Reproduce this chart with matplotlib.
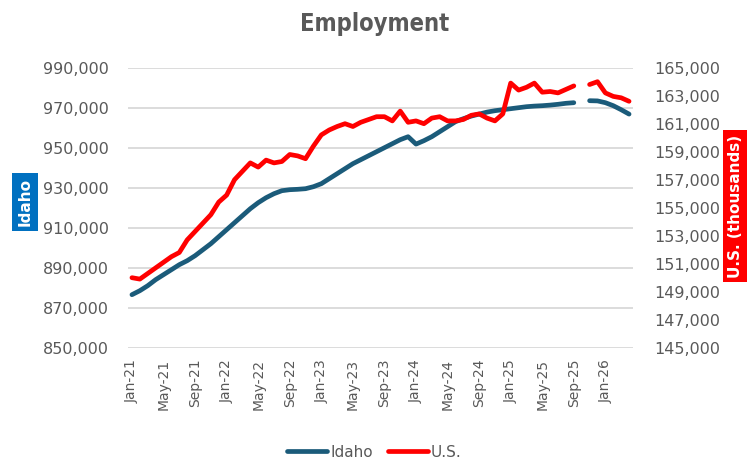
import numpy as np
import pandas as pd
import matplotlib
matplotlib.use("Agg")
import matplotlib.pyplot as plt
from matplotlib.ticker import FuncFormatter

# monthly, Jan-21 .. Apr-26 (Oct-25 missing)
months = pd.date_range("2021-01-01", "2026-04-01", freq="MS")

idaho = [876.5, 878.5, 881.0, 884.0, 886.5, 889.0, 891.5, 893.5, 896.0, 899.0, 902.0, 905.5,
         909.0, 912.5, 916.0, 919.5, 922.5, 925.0, 927.0, 928.5, 929.0, 929.2, 929.5, 930.5,
         932.0, 934.5, 937.0, 939.5, 942.0, 944.0, 946.0, 948.0, 950.0, 952.0, 954.0, 955.5,
         951.8, 953.5, 955.5, 958.0, 960.5, 963.0, 964.5, 965.8, 966.8, 967.8, 968.5, 969.0,
         969.5, 970.0, 970.5, 970.8, 971.0, 971.3, 971.7, 972.2, 972.5, np.nan, 973.5, 973.4,
         972.5, 971.0, 969.0, 966.8]
idaho = np.array(idaho) * 1000

us = [150.0, 149.9, 150.3, 150.7, 151.1, 151.5, 151.8, 152.7, 153.3, 153.9, 154.5, 155.4,
      155.9, 157.0, 157.6, 158.2, 157.9, 158.4, 158.2, 158.3, 158.8, 158.7, 158.5, 159.4,
      160.2, 160.55, 160.8, 161.0, 160.8, 161.1, 161.3, 161.5, 161.5, 161.2, 161.9, 161.1,
      161.2, 161.0, 161.4, 161.5, 161.2, 161.2, 161.3, 161.6, 161.7, 161.4, 161.2, 161.7,
      163.9, 163.4, 163.6, 163.9, 163.25, 163.3, 163.2, 163.45, 163.7, np.nan, 163.8, 164.0,
      163.2, 162.95, 162.85, 162.6]
us = np.array(us) * 1000

left_ticks = np.arange(850000, 990001, 20000)
right_ticks = np.arange(145000, 165001, 2000)

idaho_color = "#1B5B7A"
us_color = "#FF0000"
txt = "#595959"

fig = plt.figure(figsize=(7.49, 4.61), dpi=100)
ax = fig.add_axes([128 / 749, 1 - 347.7 / 461, (633 - 128) / 749, (347.7 - 67.7) / 461])
ax2 = ax.twinx()

x = np.arange(len(months))
l1, = ax.plot(x, idaho, color=idaho_color, lw=3.4, solid_capstyle="round", label="Idaho")
l2, = ax2.plot(x, us, color=us_color, lw=3.4, solid_capstyle="round", label="U.S.")

ax.set_xlim(-0.5, len(months) - 0.5)
ax.set_ylim(850000, 990000)
ax2.set_ylim(145000, 165000)
ax.set_yticks(left_ticks)
ax2.set_yticks(right_ticks)
fmt = FuncFormatter(lambda v, p: f"{v:,.0f}")
ax.yaxis.set_major_formatter(fmt)
ax2.yaxis.set_major_formatter(fmt)

ax.set_xticks(x[::4])
ax.set_xticklabels([m.strftime("%b-%y") for m in months[::4]], rotation=90)

ax.grid(axis="y", color="#D9D9D9", lw=1.3)
ax.set_axisbelow(True)
for a in (ax, ax2):
    for s in a.spines.values():
        s.set_visible(False)
ax.tick_params(axis="both", length=0, colors=txt)
ax2.tick_params(axis="both", length=0, colors=txt)
ax.tick_params(axis="y", labelsize=11.5, pad=14)
ax2.tick_params(axis="y", labelsize=11.5, pad=15)
ax.tick_params(axis="x", labelsize=10, pad=8)

fig.suptitle("Employment", x=0.5, y=0.975, fontsize=17, fontweight="bold", color=txt,
             fontstretch="condensed")

fig.text(25 / 749, 1 - 202 / 461, "Idaho", rotation=90, ha="center", va="center",
         color="white", fontsize=11, fontweight="bold",
         bbox=dict(boxstyle="square,pad=0.35", fc="#0070C0", ec="none"))
fig.text(735 / 749, 1 - 206 / 461, "U.S. (thousands)", rotation=90, ha="center", va="center",
         color="white", fontsize=11, fontweight="bold",
         bbox=dict(boxstyle="square,pad=0.3", fc=us_color, ec="none"))

fig.legend([l1, l2], ["Idaho", "U.S."], loc="center", bbox_to_anchor=(0.5, 1 - 452 / 461),
           ncol=2, frameon=False, fontsize=11, labelcolor=txt, handlelength=2.6,
           handletextpad=0.2, columnspacing=1.0)

fig.savefig("out.png", dpi=100)
